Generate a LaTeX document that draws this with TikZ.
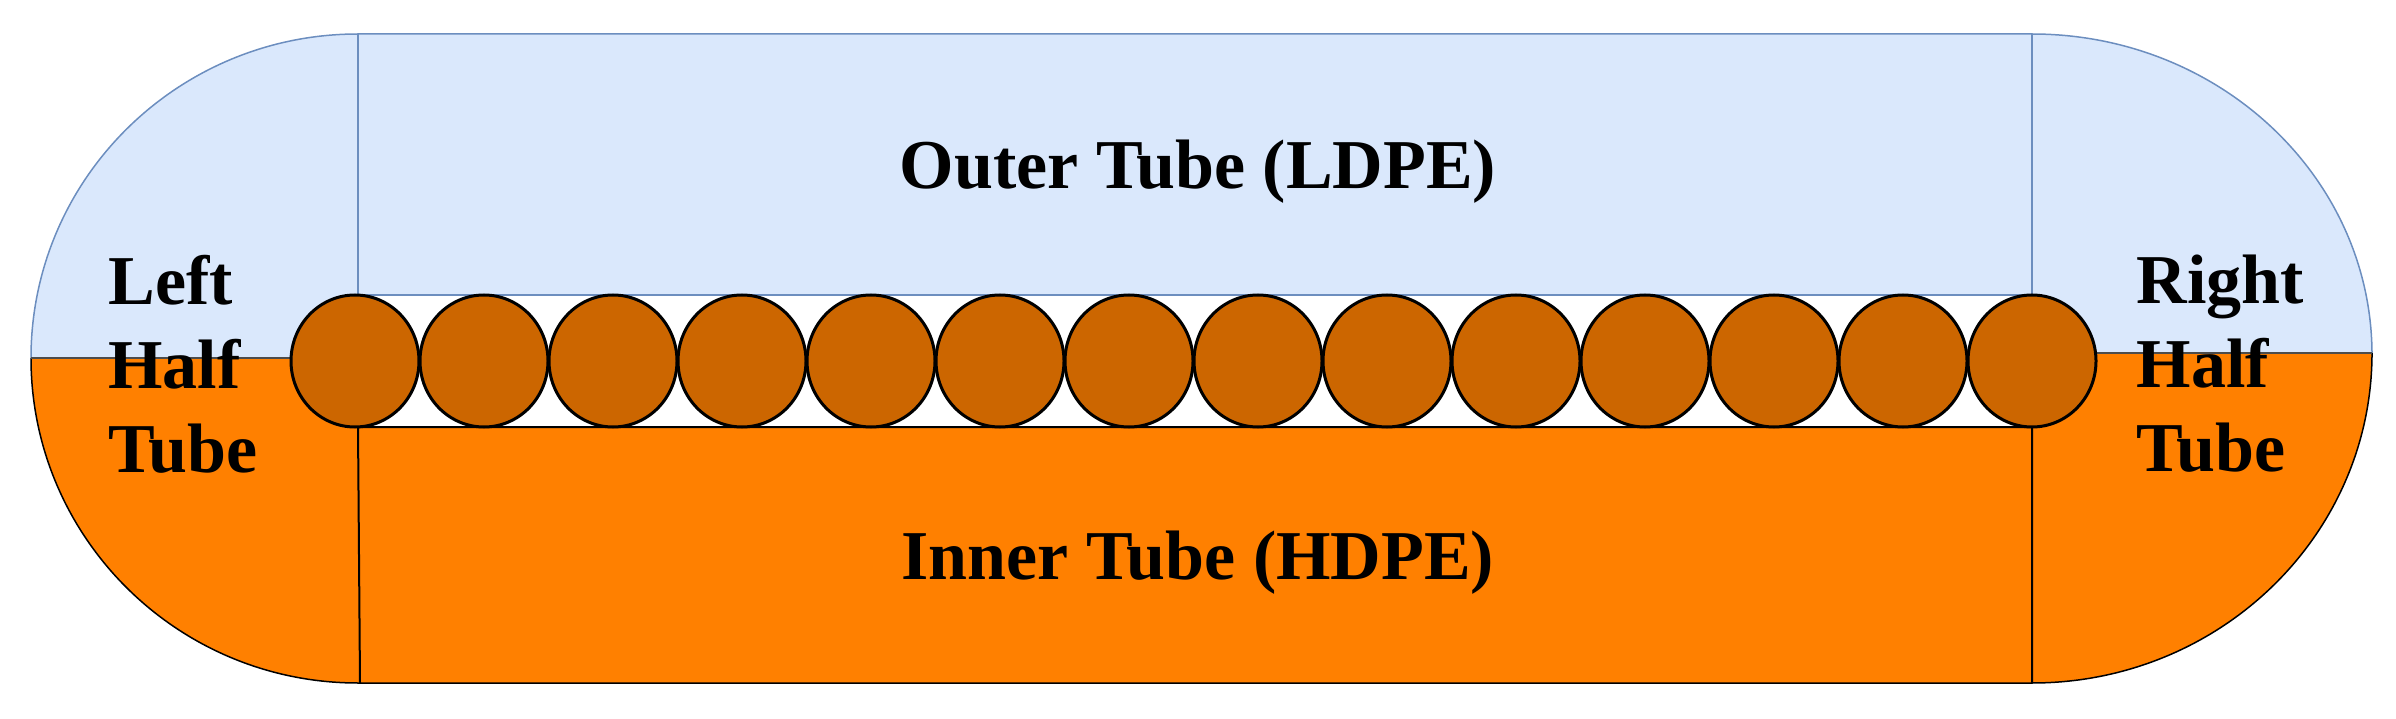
\documentclass[tikz,border=0pt]{standalone}
\usepackage{fontspec}
\setmainfont{Liberation Serif}
\usetikzlibrary{shapes.geometric}
\definecolor{lblue}{RGB}{218,232,252}
\definecolor{bblue}{RGB}{108,142,191}
\definecolor{orng}{RGB}{255,128,0}
\definecolor{brn}{RGB}{204,102,0}
\begin{document}
\begin{tikzpicture}[x=1pt,y=-1pt,
  lbl/.style={font=\bfseries\fontsize{70}{84}\selectfont, align=left},
  roll/.style={ellipse, draw=black, line width=3pt, fill=brn, minimum width=128pt, minimum height=132pt, inner sep=0pt}]
\useasboundingbox (0,0) rectangle (2396,719);
% upper (blue) half
\fill[lblue] (31,358) arc[start angle=180,end angle=90,x radius=327,y radius=-324] -- (2032,34)
  arc[start angle=90,end angle=0,x radius=340,y radius=-321] -- cycle;
% lower (orange) half
\fill[orng] (31,358) arc[start angle=180,end angle=270,x radius=327,y radius=-325] -- (2032,683)
  arc[start angle=270,end angle=360,x radius=340,y radius=-330] -- cycle;
% white strip
\fill[white] (358,295) rectangle (2032,427);
% outlines
\draw[bblue,line width=1.5pt] (31,358) arc[start angle=180,end angle=90,x radius=327,y radius=-324] -- (2032,34)
  arc[start angle=90,end angle=0,x radius=340,y radius=-321];
\draw[black,line width=1.5pt] (31,358) arc[start angle=180,end angle=270,x radius=327,y radius=-325] -- (2032,683)
  arc[start angle=270,end angle=360,x radius=340,y radius=-330];
\draw[bblue,line width=1.5pt] (358,34) -- (358,295) -- (2032,295) -- (2032,34);
\draw[black,line width=2pt] (360,683) -- (358,427) -- (2032,427) -- (2032,683);
\draw[black!70,line width=1.5pt] (31,358) -- (300,358);
\draw[black!70,line width=1.5pt] (2090,353) -- (2372,353);
% rolls
\foreach \i in {1,...,14} {
  \node[roll] (c\i) at ({355+(\i-1)*129},361) {};
}
% labels
\node[lbl] (outer) at (1198,172) {Outer Tube (LDPE)};
\node[lbl] (inner) at (1198,563) {Inner Tube (HDPE)};
\node[lbl, anchor=west] (left) at (105,364) {Left\\Half\\Tube};
\node[lbl, anchor=west] (right) at (2133,364) {Right\\Half\\Tube};
\end{tikzpicture}
\end{document}
